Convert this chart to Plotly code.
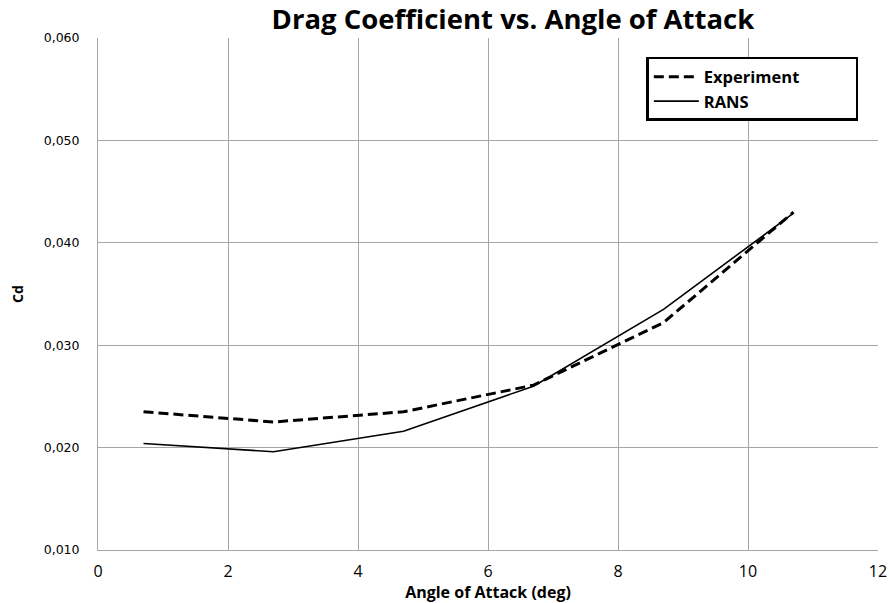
import plotly.graph_objects as go

alpha = [0.7, 2.7, 4.7, 6.7, 8.7, 10.7]
cd_experiment = [0.0235, 0.0225, 0.0235, 0.0261, 0.0322, 0.0430]
cd_rans = [0.0204, 0.0196, 0.0216, 0.0260, 0.0335, 0.0429]

x_ticks = [0, 2, 4, 6, 8, 10, 12]
y_ticks = [0.010, 0.020, 0.030, 0.040, 0.050, 0.060]

pad = "&nbsp;" * 12

fig = go.Figure()
fig.add_trace(go.Scatter(x=alpha, y=cd_experiment, mode="lines", name="<b>Experiment</b>" + pad,
                         line=dict(color="black", width=3, dash="10px,5px")))
fig.add_trace(go.Scatter(x=alpha, y=cd_rans, mode="lines", name="<b>RANS</b>",
                         line=dict(color="black", width=1.6)))

fig.update_layout(
    width=889, height=603,
    margin=dict(l=98, r=11, t=38, b=53),
    paper_bgcolor="white", plot_bgcolor="white",
    separators=", ",
    title=dict(text="<b>Drag Coefficient vs. Angle of Attack</b>", x=0.577, xanchor="center",
               y=0.968, yanchor="middle",
               font=dict(family="Open Sans, sans-serif", size=27.5, color="black")),
    xaxis=dict(range=[0, 12], tickvals=x_ticks, showgrid=True, gridcolor="#a6a6a6", gridwidth=1,
               showline=True, linecolor="#a6a6a6", mirror=False, zeroline=False, automargin=False,
               ticks="", ticklabelstandoff=7,
               tickfont=dict(family="Open Sans, sans-serif", size=16, color="black"),
               title=dict(text="<b>Angle of Attack (deg)</b>", standoff=6,
                          font=dict(family="Open Sans, sans-serif", size=16, color="black"))),
    yaxis=dict(range=[0.010, 0.060], tickvals=y_ticks, tickformat=".3f", showgrid=True,
               gridcolor="#a6a6a6", gridwidth=1, showline=True, linecolor="#a6a6a6", zeroline=False,
               automargin=False, ticks="", ticklabelstandoff=15,
               tickfont=dict(family="DejaVu Sans, sans-serif", size=12.5, color="black"),
               title=dict(text="<b>Cd</b>", standoff=16,
                          font=dict(family="Open Sans, sans-serif", size=14, color="black"))),
    legend=dict(x=0.703, y=0.963, xanchor="left", yanchor="top",
                bgcolor="white", bordercolor="black", borderwidth=2.5,
                font=dict(family="Open Sans, sans-serif", size=16.5, color="black"),
                itemwidth=45, tracegroupgap=0),
    showlegend=True,
)
fig.write_html("out.html", config={"displayModeBar": False},
               post_script="document.body.style.margin='0';")
